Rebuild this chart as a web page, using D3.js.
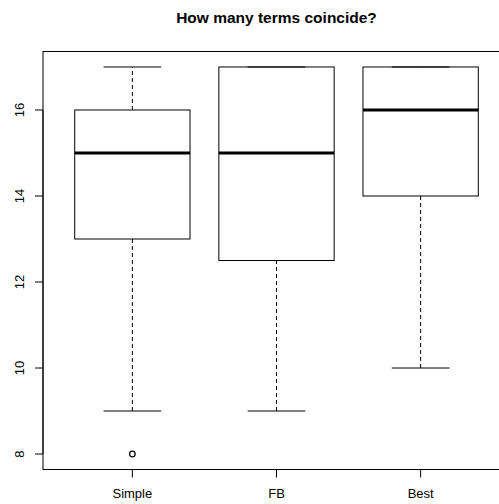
<!DOCTYPE html>
<html>
<head>
<meta charset="utf-8">
<script src="https://cdn.jsdelivr.net/npm/d3@7"></script>
<style>
  html, body { margin: 0; padding: 0; background: #fff; }
  svg { display: block; }
  text { font-family: "Liberation Sans", Arial, Helvetica, sans-serif; }
</style>
</head>
<body>
<svg id="chart" width="499" height="504"></svg>
<script>
// Group names
const categories = ["Simple", "FB", "Best"];
// Five-number summaries per group
const whiskerLow  = [9, 9, 10];
const boxLow      = [13, 12.5, 14];
const medians     = [15, 15, 16];
const boxHigh     = [16, 17, 17];
const whiskerHigh = [17, 17, 17];
// Points beyond the whiskers: [group index, value]
const outliers = [[0, 8]];
// Axis ticks
const yTicks = [8, 10, 12, 14, 16];
const title = "How many terms coincide?";

const svg = d3.select("#chart");

// Plot region (right edge runs past the canvas)
const plotLeft = 43, plotRight = 510, plotTop = 51.5, plotBottom = 469.5;

// Index-based x domain padded by 4% like a base-graphics boxplot
const xPad = 0.04 * 3;
const x = d3.scaleLinear().domain([0.5 - xPad, 3.5 + xPad]).range([plotLeft, plotRight]);
const yMin = 8, yMax = 17, yPad = 0.04 * (yMax - yMin);
const y = d3.scaleLinear().domain([yMin - yPad, yMax + yPad]).range([plotBottom, plotTop]);

const boxW = 0.8, capW = 0.4;

const g = svg.append("g");

categories.forEach((c, i) => {
  const cx = x(i + 1);
  const bl = x(i + 1 - boxW / 2), br = x(i + 1 + boxW / 2);
  const cl = x(i + 1 - capW / 2), cr = x(i + 1 + capW / 2);

  // whiskers (dashed)
  g.append("line").attr("x1", cx).attr("x2", cx)
    .attr("y1", y(whiskerLow[i])).attr("y2", y(boxLow[i]))
    .attr("stroke", "#000").attr("stroke-width", 1).attr("stroke-dasharray", "4,3");
  g.append("line").attr("x1", cx).attr("x2", cx)
    .attr("y1", y(boxHigh[i])).attr("y2", y(whiskerHigh[i]))
    .attr("stroke", "#000").attr("stroke-width", 1).attr("stroke-dasharray", "4,3");

  // whisker caps
  [whiskerLow[i], whiskerHigh[i]].forEach(v => {
    g.append("line").attr("x1", cl).attr("x2", cr)
      .attr("y1", y(v)).attr("y2", y(v))
      .attr("stroke", "#000").attr("stroke-width", 1);
  });

  // box
  g.append("rect")
    .attr("x", bl).attr("y", y(boxHigh[i]))
    .attr("width", br - bl).attr("height", y(boxLow[i]) - y(boxHigh[i]))
    .attr("fill", "none").attr("stroke", "#000").attr("stroke-width", 1);

  // median
  g.append("line").attr("x1", bl).attr("x2", br)
    .attr("y1", y(medians[i])).attr("y2", y(medians[i]))
    .attr("stroke", "#000").attr("stroke-width", 3);
});

// outliers
g.selectAll("circle.out").data(outliers).enter().append("circle")
  .attr("class", "out")
  .attr("cx", d => x(d[0] + 1)).attr("cy", d => y(d[1]))
  .attr("r", 2.8).attr("fill", "none").attr("stroke", "#000").attr("stroke-width", 1.2);

// plot frame
svg.append("rect").attr("x", plotLeft).attr("y", plotTop)
  .attr("width", plotRight - plotLeft).attr("height", plotBottom - plotTop)
  .attr("fill", "none").attr("stroke", "#000").attr("stroke-width", 1);

// y axis
const yAxis = svg.append("g");
yAxis.append("line").attr("x1", plotLeft).attr("x2", plotLeft)
  .attr("y1", y(yTicks[0])).attr("y2", y(yTicks[yTicks.length - 1]))
  .attr("stroke", "#000");
yTicks.forEach(t => {
  yAxis.append("line").attr("x1", plotLeft - 8).attr("x2", plotLeft)
    .attr("y1", y(t)).attr("y2", y(t)).attr("stroke", "#000");
  yAxis.append("text")
    .attr("transform", `translate(${plotLeft - 19},${y(t)}) rotate(-90)`)
    .attr("text-anchor", "middle")
    .attr("font-size", 13)
    .text(t);
});

// x axis
const xAxis = svg.append("g");
xAxis.append("line").attr("x1", x(1)).attr("x2", x(3))
  .attr("y1", plotBottom).attr("y2", plotBottom).attr("stroke", "#000");
categories.forEach((c, i) => {
  xAxis.append("line").attr("x1", x(i + 1)).attr("x2", x(i + 1))
    .attr("y1", plotBottom).attr("y2", plotBottom + 8).attr("stroke", "#000");
  xAxis.append("text")
    .attr("x", x(i + 1)).attr("y", plotBottom + 28)
    .attr("text-anchor", "middle")
    .attr("font-size", 13)
    .text(c);
});

// title
svg.append("text")
  .attr("x", (plotLeft + plotRight) / 2).attr("y", 23)
  .attr("text-anchor", "middle")
  .attr("font-size", 15.5).attr("font-weight", "bold")
  .text(title);
</script>
</body>
</html>
